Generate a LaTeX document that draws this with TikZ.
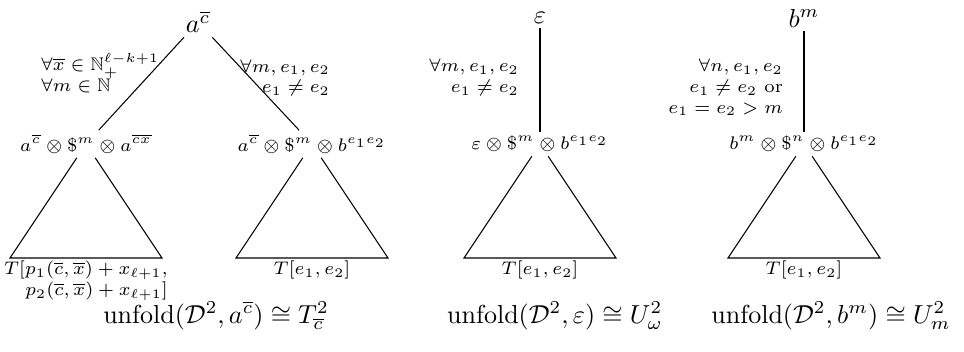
\documentclass[tikz,border=0pt]{standalone}
\usepackage{amssymb}
\usepackage{amsmath}
\usepackage{tikz}
\usetikzlibrary{positioning}
\tikzset{
  unfroot/.style={inner sep=1.5pt},
  unfstate/.style={font=\scriptsize,inner sep=1.5pt},
  unfcond/.style={font=\scriptsize,align=right,inner sep=1pt},
  unfcondl/.style={font=\scriptsize,align=left,inner sep=1pt,anchor=west},
  unfleaf/.style={font=\scriptsize,align=right,inner sep=1pt},
  unfresult/.style={anchor=base,inner sep=0pt},
  unfbranch/.style={thin},
  unfsubtree/.style={thin,line join=miter}
}

\begin{document}
\begin{tikzpicture}[x=1.35mm,y=-1.35mm]
  \useasboundingbox (0,0) rectangle (96.4,35.1);

  % first tree
  \node[unfroot] (ra) at (19.8,2.2) {$a^{\overline{c}}$};
  \node[unfstate] (lc) at (8.6,14.4)
    {$a^{\overline{c}} \otimes \$^m \otimes a^{\overline{cx}}$};
  \node[unfstate] (rc) at (31.2,14.4)
    {$a^{\overline{c}} \otimes \$^m \otimes b^{e_1e_2}$};
  \draw[unfbranch] (ra) -- (lc);
  \draw[unfbranch] (ra) -- (rc);
  \node[unfcondl] at (3.8,7.3)
    {$\forall \overline{x} \in \mathbb{N}_+^{\ell-k+1}$\\$\forall m \in \mathbb{N}$};
  \node[unfcond,anchor=east] at (33.3,7.8)
    {$\forall m, e_1, e_2$\\$e_1 \neq e_2$};

  \coordinate (lcl) at (1.0,25.8);
  \coordinate (lcr) at (16.2,25.8);
  \coordinate (lcb) at (8.6,25.8);
  \draw[unfsubtree] (lc) -- (lcl) -- (lcr) -- (lc);
  \node[unfleaf,below=0pt of lcb]
    {$T[p_1(\overline{c},\overline{x}) + x_{\ell+1},$\\$p_2(\overline{c},\overline{x}) + x_{\ell+1}]$};

  \coordinate (rcl) at (23.6,25.8);
  \coordinate (rcr) at (38.8,25.8);
  \coordinate (rcb) at (31.2,25.8);
  \draw[unfsubtree] (rc) -- (rcl) -- (rcr) -- (rc);
  \node[unfleaf,below=0pt of rcb] {$T[e_1,e_2]$};

  \node[unfresult] (ua) at (21.6,32.3)
    {$\mathrm{unfold}(\mathcal{D}^2, a^{\overline{c}}) \cong T^2_{\overline{c}}$};

  % second tree
  \node[unfroot] (re) at (54.0,1.8) {$\varepsilon$};
  \node[unfstate] (ec) at (54.0,14.4)
    {$\varepsilon \otimes \$^m \otimes b^{e_1e_2}$};
  \draw[unfbranch] (re) -- (ec);
  \node[unfcond,anchor=east] at (52.2,7.75)
    {$\forall m, e_1, e_2$\\$e_1 \neq e_2$};

  \coordinate (ecl) at (46.4,25.8);
  \coordinate (ecr) at (61.6,25.8);
  \coordinate (ecb) at (54.0,25.8);
  \draw[unfsubtree] (ec) -- (ecl) -- (ecr) -- (ec);
  \node[unfleaf,below=0pt of ecb] {$T[e_1,e_2]$};

  \node[unfresult] (ue) at (55.5,32.3)
    {$\mathrm{unfold}(\mathcal{D}^2, \varepsilon) \cong U^2_\omega$};

  % third tree
  \node[unfroot] (rb) at (80.4,1.8) {$b^m$};
  \node[unfstate] (bc) at (80.4,14.4)
    {$b^m \otimes \$^n \otimes b^{e_1e_2}$};
  \draw[unfbranch] (rb) -- (bc);
  \node[unfcond,anchor=east] at (78.6,8.75)
    {$\forall n, e_1, e_2$\\$e_1 \neq e_2$ or\\$e_1 = e_2 > m$};

  \coordinate (bcl) at (72.8,25.8);
  \coordinate (bcr) at (88.0,25.8);
  \coordinate (bcb) at (80.4,25.8);
  \draw[unfsubtree] (bc) -- (bcl) -- (bcr) -- (bc);
  \node[unfleaf,below=0pt of bcb] {$T[e_1,e_2]$};

  \node[unfresult] (ub) at (83.1,32.3)
    {$\mathrm{unfold}(\mathcal{D}^2, b^m) \cong U^2_m$};
\end{tikzpicture}
\end{document}
